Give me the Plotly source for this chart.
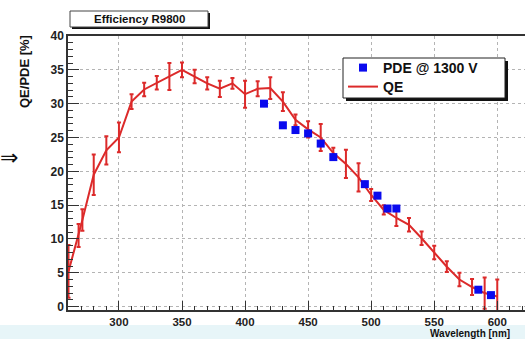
import plotly.graph_objects as go

# Quantum efficiency of the R9800 photocathode (red curve with error bars)
qe_wavelength = [260, 268, 271, 280, 290, 300, 310, 320, 330, 340, 350, 360,
                 370, 380, 390, 400, 410, 420, 430, 440, 450, 460, 470, 480,
                 490, 500, 510, 520, 530, 540, 550, 560, 570, 580, 590, 600]
qe_value = [5.2, 10.5, 12.8, 19.5, 23.1, 25.0, 30.3, 32.1, 33.1, 34.0, 35.0, 34.0,
            33.0, 32.2, 33.0, 31.4, 32.2, 32.3, 30.3, 27.6, 26.2, 25.0, 22.7, 21.1,
            19.1, 16.5, 14.3, 13.1, 12.1, 10.1, 8.0, 5.9, 4.0, 2.9, 2.0, 1.5]
qe_error = [3.9, 1.7, 1.6, 3.0, 2.1, 2.2, 1.1, 1.0, 1.0, 2.0, 1.1, 1.0,
            0.9, 1.2, 0.8, 2.0, 1.1, 1.6, 1.4, 0.8, 1.2, 2.0, 0.8, 2.1,
            2.1, 0.9, 0.7, 1.2, 1.0, 1.0, 1.0, 0.8, 1.0, 1.2, 2.3, 2.5]

# Photon detection efficiency measured at 1300 V
pde_wavelength = [415, 430, 440, 450, 460, 470, 495, 505, 513, 520, 585, 595]
pde_value = [30.0, 26.8, 26.1, 25.6, 24.1, 22.1, 18.1, 16.4, 14.5, 14.5, 2.5, 1.7]
pde_error = [0.5, 0.5, 0.5, 0.5, 0.5, 0.5, 0.5, 0.5, 0.5, 0.5, 0.4, 0.4]

y_ticks = [0, 5, 10, 15, 20, 25, 30, 35, 40]
x_ticks = [300, 350, 400, 450, 500, 550, 600]

W, H = 525, 339
ML, MR, MT, MB = 68, 0, 36, 29
PW, PH = W - ML - MR, H - MT - MB

FONT = "Liberation Sans"
RED = "#dc2a2a"
BLUE = "#0a0aee"


def px_x(px):
    return (px - ML) / PW


def px_y(py):
    return (H - MB - py) / PH


fig = go.Figure()

fig.add_trace(go.Scatter(
    x=pde_wavelength, y=pde_value, name="PDE @ 1300 V", mode="markers",
    marker=dict(symbol="square", size=8, color=BLUE),
    error_y=dict(type="data", array=pde_error, color=BLUE, thickness=2, width=0),
    legend="legend",
))
fig.add_trace(go.Scatter(
    x=qe_wavelength, y=qe_value, name="QE", mode="lines",
    line=dict(color=RED, width=2),
    error_y=dict(type="data", array=qe_error, color=RED, thickness=2, width=2),
    legend="legend2",
))
# draw the QE curve underneath the PDE markers
fig.data = (fig.data[1], fig.data[0])

axis_common = dict(
    showline=True, linecolor="#333333", linewidth=1.5,
    ticks="inside", tickcolor="#333333", tickwidth=1,
    showgrid=True, gridcolor="#b4b4b4", griddash="dot", gridwidth=1,
    zeroline=False,
)

fig.update_xaxes(
    **axis_common,
    range=[259.6, 622], tickvals=x_ticks, ticklen=9,
    tickfont=dict(family=FONT, size=11.5, color="#222222", weight="bold"),
    minor=dict(dtick=10, tick0=300, ticklen=4, ticks="inside",
               tickcolor="#333333", showgrid=False),
    mirror=True,
)
fig.update_yaxes(
    **axis_common,
    range=[-0.5, 40], tickvals=y_ticks, ticklen=11,
    tickfont=dict(family=FONT, size=12, color="#222222", weight="bold"),
    minor=dict(dtick=1, tick0=0, ticklen=5, ticks="inside",
               tickcolor="#333333", showgrid=False),
)

shapes = [
    # pale band along the bottom of the slide
    dict(type="rect", xref="paper", yref="paper", x0=px_x(0), x1=px_x(W),
         y0=px_y(H), y1=px_y(325), fillcolor="#e7f5f8", line_width=0,
         layer="below"),
    # title box with drop shadow
    dict(type="rect", xref="paper", yref="paper", x0=px_x(72), x1=px_x(210),
         y0=px_y(29), y1=px_y(13), fillcolor="#111111", line_width=0),
    dict(type="rect", xref="paper", yref="paper", x0=px_x(70), x1=px_x(208),
         y0=px_y(27), y1=px_y(11), fillcolor="white",
         line=dict(color="#444444", width=1)),
    # legend frame with drop shadow
    dict(type="rect", xref="paper", yref="paper", x0=px_x(346), x1=px_x(508),
         y0=px_y(101), y1=px_y(61), fillcolor="#111111", line_width=0),
    dict(type="rect", xref="paper", yref="paper", x0=px_x(343), x1=px_x(505),
         y0=px_y(98), y1=px_y(58), fillcolor="white",
         line=dict(color="#222222", width=1)),
]

annotations = [
    dict(text="Efficiency R9800", x=px_x(139), y=px_y(19.5), xref="paper",
         yref="paper", showarrow=False, xanchor="center", yanchor="middle",
         font=dict(family=FONT, size=11.5, color="#111111", weight="bold")),
    dict(text="QE/PDE [%]", x=px_x(25), y=px_y(72), xref="paper", yref="paper",
         showarrow=False, textangle=-90, xanchor="center", yanchor="middle",
         font=dict(family=FONT, size=13, color="#111111", weight="bold")),
    dict(text="Wavelength [nm]", x=px_x(428), y=px_y(333.5), xref="paper",
         yref="paper", showarrow=False, xanchor="left", yanchor="middle",
         font=dict(family=FONT, size=10, color="#111111", weight="bold")),
    dict(text="⇒", x=px_x(9), y=px_y(157), xref="paper", yref="paper",
         showarrow=False, xanchor="center", yanchor="middle",
         font=dict(family="DejaVu Sans", size=22, color="#111111")),
]

legend_style = dict(
    xref="paper", yref="paper", xanchor="left", yanchor="middle",
    bgcolor="rgba(0,0,0,0)", borderwidth=0, itemwidth=30,
    font=dict(family=FONT, size=14, color="#111111", weight="bold"),
)

fig.update_layout(
    width=W, height=H,
    margin=dict(l=ML, r=MR, t=MT, b=MB, pad=0),
    paper_bgcolor="white", plot_bgcolor="white",
    shapes=shapes, annotations=annotations,
    showlegend=True,
    legend=dict(x=px_x(343), y=px_y(68), **legend_style),
    legend2=dict(x=px_x(343), y=px_y(87), **legend_style),
)

fig.write_html("out.html")
